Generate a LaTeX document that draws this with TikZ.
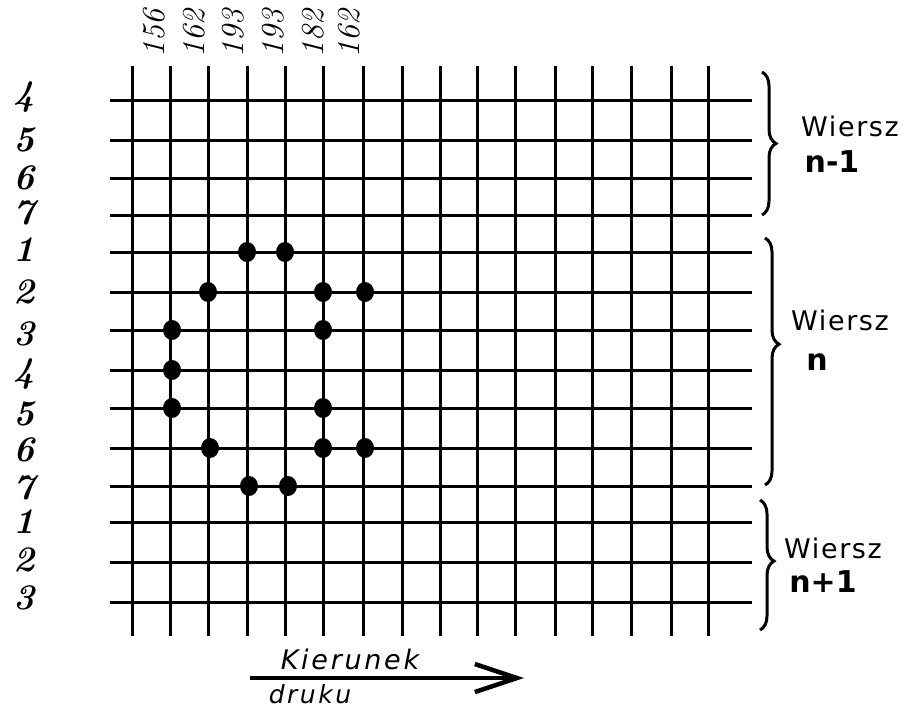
\documentclass[tikz,border=0pt]{standalone}
\usepackage{fontspec}
\newfontfamily\hand{DejaVu Sans}
\newfontfamily\handit{DejaVu Sans Oblique}
\newfontfamily\handbf{DejaVu Sans Bold}
\usetikzlibrary{decorations.pathreplacing,arrows.meta,shapes.geometric}
\begin{document}
\begin{tikzpicture}[x=1pt,y=-1pt,
  gridline/.style={line width=3pt},
  dot/.style={ellipse,fill=black,inner sep=0pt,minimum width=18pt,minimum height=20pt},
  rowlab/.style={font=\fontsize{36}{36}\selectfont\bfseries\itshape,inner sep=0pt},
  collab/.style={font=\fontsize{32}{32}\selectfont\itshape,rotate=90,inner sep=0pt},
  bracestyle/.style={decorate,decoration={brace,amplitude=14pt,#1},line width=3pt},
  bracestyle/.default={aspect=0.5},
  wtext/.style={font=\fontsize{27}{27}\hand\addfontfeature{LetterSpace=6},inner sep=0pt},
  ntext/.style={font=\fontsize{30}{30}\handbf,inner sep=0pt},
  ktext/.style={font=\fontsize{27}{27}\handit\addfontfeature{LetterSpace=10},inner sep=0pt},
  dtext/.style={font=\fontsize{25}{25}\handit\addfontfeature{LetterSpace=10},inner sep=0pt}
]
\useasboundingbox (0,0) rectangle (912,710);
% grid
\foreach \x in {132,170,208,247,285,323,363,402,440,477,515,555,592,631,671,708}
  \draw[gridline] (\x,66) -- (\x,636);
\foreach \y in {100,140,178,215,252,292,330,370,408,448,486,522,562,602}
  \draw[gridline] (110,\y) -- (752,\y);
% dots
\node[dot] (d1) at (247,252) {};
\node[dot] (d2) at (285,252) {};
\node[dot] (d3) at (208,292) {};
\node[dot] (d4) at (323,292) {};
\node[dot] (d5) at (365,292) {};
\node[dot] (d6) at (172,330) {};
\node[dot] (d7) at (323,330) {};
\node[dot] (d8) at (172,370) {};
\node[dot] (d9) at (172,408) {};
\node[dot] (d10) at (323,408) {};
\node[dot] (d11) at (210,448) {};
\node[dot] (d12) at (323,448) {};
\node[dot] (d13) at (365,448) {};
\node[dot] (d14) at (249,486) {};
\node[dot] (d15) at (288,486) {};
% row labels
\foreach \y/\t [count=\i] in {97/4,140/5,178/6,213/7,250/1,292/2,334/3,374/4,414/5,450/6,488/7,522/1,560/2,598/3}
  \node[rowlab] (r\i) at (24,\y) {\t};
% column labels
\node[collab] (c1) at (154,33) {156};
\node[collab] (c2) at (194,33) {162};
\node[collab] (c3) at (233,33) {193};
\node[collab] (c4) at (273,33) {193};
\node[collab] (c5) at (313,33) {182};
\node[collab] (c6) at (349,33) {162};
% braces
\draw[bracestyle] (762,72) -- (762,215);
\draw[bracestyle={aspect=0.43}] (765,238) -- (765,485);
\draw[bracestyle={aspect=0.47}] (760,500) -- (760,630);
% texts
\node[wtext] (w1) at (850,126) {Wiersz};
\node[ntext] (n1) at (832,162) {n-1};
\node[wtext] (w2) at (840,320) {Wiersz};
\node[ntext] (n2) at (817,362) {n};
\node[wtext] (w3) at (833,548) {Wiersz};
\node[ntext] (n3) at (823,582) {n+1};
% direction arrow
\node[ktext] (k1) at (350,659) {Kierunek};
\node[dtext] (k2) at (310,694) {druku};
\coordinate (as) at (250,678);
\coordinate (ae) at (524,678);
\draw[line width=4pt,-{Straight Barb[length=42pt,width=28pt,line width=4.5pt]}] (as) -- (ae);
\end{tikzpicture}
\end{document}
